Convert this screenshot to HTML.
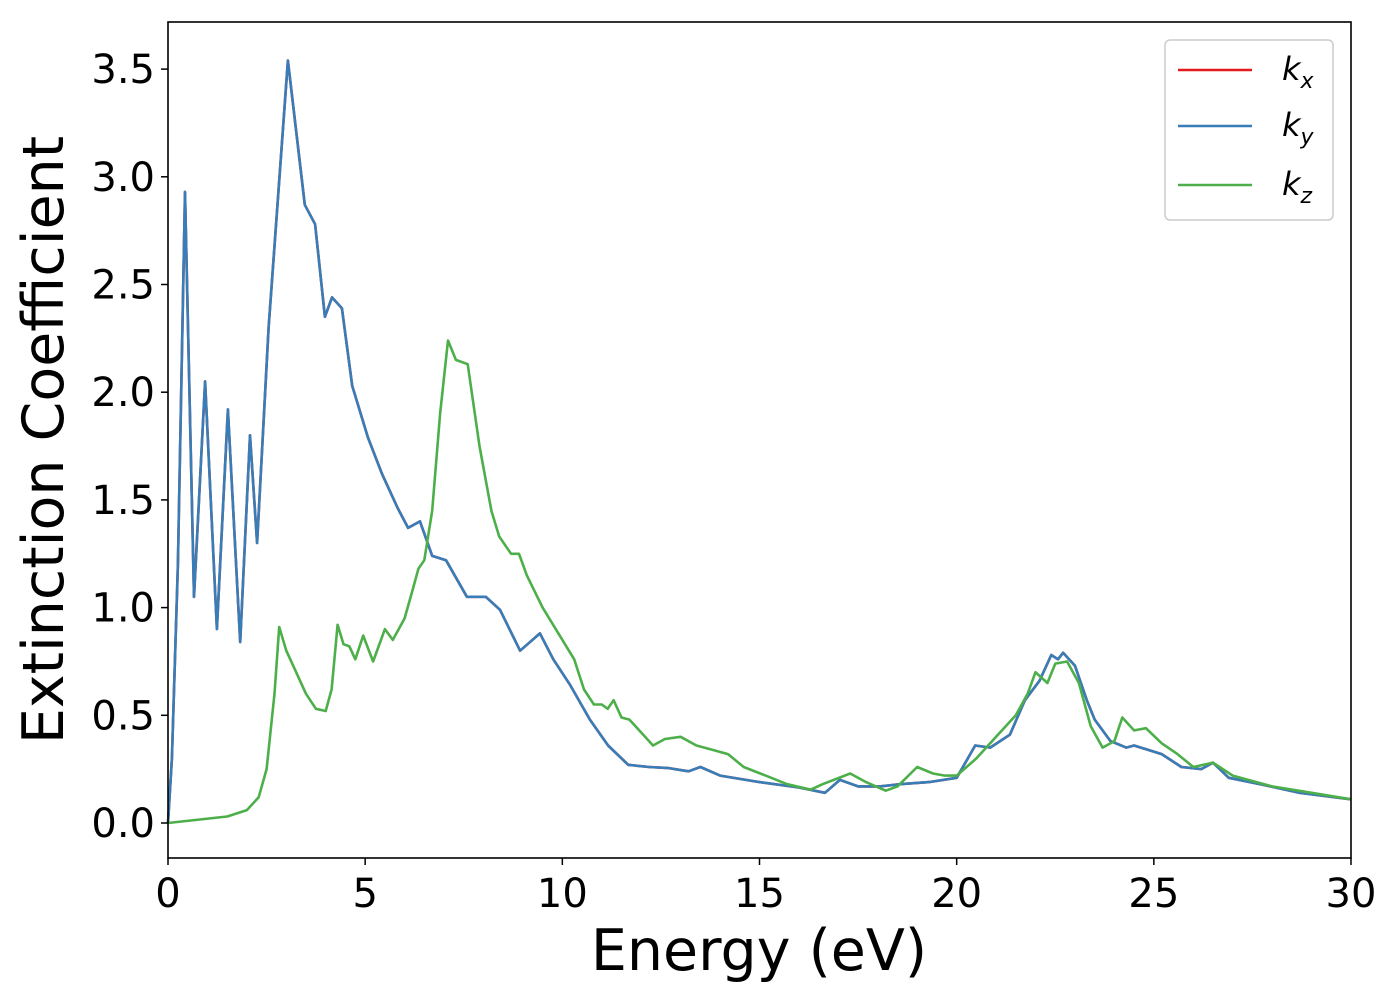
<!DOCTYPE html>
<html><head><meta charset="utf-8"><style>
body{margin:0;background:#fff;}
svg text{font-family:"DejaVu Sans","Liberation Sans",sans-serif;fill:#000;}
</style></head><body>
<svg id="chart" width="1400" height="1000" xmlns="http://www.w3.org/2000/svg">
<g id="series"></g>
<rect x="168" y="22" width="1183" height="836" fill="none" stroke="#000" stroke-width="1.6"/>
<g id="axes"></g>
<text x="759" y="970" font-size="57" text-anchor="middle">Energy (eV)</text>
<text transform="translate(63,440) rotate(-90)" font-size="57" text-anchor="middle">Extinction Coefficient</text>
<g>
<rect x="1165" y="40" width="168" height="180" rx="5" fill="#fff" fill-opacity="0.8" stroke="#ccc" stroke-width="1.5"/>
<line x1="1178" y1="70" x2="1252" y2="70" stroke="#e41a1c" stroke-width="2.5"/>
<text x="1282" y="80" font-size="32" font-style="italic">k<tspan font-size="22" dy="8">x</tspan></text>
<line x1="1178" y1="126" x2="1252" y2="126" stroke="#377eb8" stroke-width="2.5"/>
<text x="1282" y="136" font-size="32" font-style="italic">k<tspan font-size="22" dy="8">y</tspan></text>
<line x1="1178" y1="185" x2="1252" y2="185" stroke="#4daf4a" stroke-width="2.5"/>
<text x="1282" y="195" font-size="32" font-style="italic">k<tspan font-size="22" dy="8">z</tspan></text>
</g>
</svg>
<script>
const xTicks=[0,5,10,15,20,25,30];
const yTicks=[0.0,0.5,1.0,1.5,2.0,2.5,3.0,3.5];
const xyEnergy=[0,0.1,0.25,0.43,0.66,0.94,1.24,1.52,1.83,2.08,2.26,2.55,3.04,3.47,3.73,3.98,4.16,4.41,4.67,5.07,5.43,5.83,6.09,6.39,6.7,7.05,7.58,8.06,8.42,8.93,9.43,9.77,10.2,10.7,11.16,11.67,12.2,12.7,13.2,13.5,14,15,16,16.66,17.04,17.5,18.05,18.56,19.3,20,20.47,20.85,21.35,21.73,22.1,22.4,22.57,22.7,23.0,23.3,23.5,23.9,24.3,24.5,25.2,25.7,26.2,26.5,26.9,27.7,28.7,30];
const kxyValues=[0,0.3,1.2,2.93,1.05,2.05,0.90,1.92,0.84,1.80,1.30,2.3,3.54,2.87,2.78,2.35,2.44,2.39,2.03,1.79,1.62,1.46,1.37,1.40,1.24,1.22,1.05,1.05,0.99,0.80,0.88,0.76,0.64,0.48,0.36,0.27,0.26,0.255,0.24,0.26,0.22,0.19,0.165,0.14,0.20,0.17,0.17,0.18,0.19,0.21,0.36,0.35,0.41,0.57,0.66,0.78,0.76,0.79,0.73,0.57,0.48,0.38,0.35,0.36,0.32,0.26,0.25,0.28,0.21,0.18,0.14,0.11];
const zEnergy=[0,1.5,2.0,2.3,2.5,2.7,2.82,3.0,3.2,3.5,3.75,4.0,4.15,4.3,4.45,4.6,4.75,4.95,5.2,5.5,5.7,6.0,6.2,6.35,6.5,6.7,6.9,7.1,7.3,7.6,7.9,8.2,8.4,8.7,8.9,9.1,9.5,9.9,10.3,10.55,10.8,11.0,11.15,11.3,11.5,11.7,12.0,12.3,12.6,13.0,13.4,13.8,14.2,14.6,15.3,15.7,16.3,16.6,17.3,17.7,18.2,18.5,19.0,19.4,19.7,20.0,20.5,21.0,21.5,21.8,22.0,22.3,22.5,22.8,23.1,23.4,23.7,24.0,24.2,24.5,24.8,25.2,25.6,26.0,26.5,27.0,28,29,30];
const kzValues=[0,0.03,0.06,0.12,0.25,0.6,0.91,0.80,0.72,0.60,0.53,0.52,0.62,0.92,0.83,0.82,0.76,0.87,0.75,0.90,0.85,0.95,1.08,1.18,1.22,1.45,1.9,2.24,2.15,2.13,1.75,1.45,1.33,1.25,1.25,1.15,1.0,0.88,0.76,0.62,0.55,0.55,0.53,0.57,0.49,0.48,0.42,0.36,0.39,0.40,0.36,0.34,0.32,0.26,0.21,0.18,0.155,0.18,0.23,0.19,0.15,0.17,0.26,0.23,0.22,0.22,0.30,0.40,0.50,0.60,0.70,0.65,0.74,0.75,0.65,0.45,0.35,0.38,0.49,0.43,0.44,0.37,0.32,0.26,0.28,0.22,0.17,0.14,0.11];
const NS='http://www.w3.org/2000/svg';
const X0=168,X1=1351,XMAX=30,Y0=823,YPER=215.4;
function xs(v){return X0+v*(X1-X0)/XMAX;}
function ys(v){return Y0-v*YPER;}
const axes=document.getElementById('axes');
xTicks.forEach(t=>{
 const l=document.createElementNS(NS,'line');
 l.setAttribute('x1',xs(t));l.setAttribute('x2',xs(t));l.setAttribute('y1',858);l.setAttribute('y2',865);l.setAttribute('stroke','#000');l.setAttribute('stroke-width','1.5');
 
 
 axes.appendChild(l);
 const tx=document.createElementNS(NS,'text');
 tx.setAttribute('x',xs(t));tx.setAttribute('y',907);tx.setAttribute('font-size','40');tx.setAttribute('text-anchor','middle');
 tx.textContent=t;
 
 
 axes.appendChild(tx);
});
yTicks.forEach(t=>{
 const l=document.createElementNS(NS,'line');
 l.setAttribute('x1',161);l.setAttribute('x2',168);l.setAttribute('y1',ys(t));l.setAttribute('y2',ys(t));l.setAttribute('stroke','#000');l.setAttribute('stroke-width','1.5');
 
 
 axes.appendChild(l);
 const tx=document.createElementNS(NS,'text');
 tx.setAttribute('x',155);tx.setAttribute('y',ys(t)+14);tx.setAttribute('font-size','40');tx.setAttribute('text-anchor','end');
 tx.textContent=t.toFixed(1);
 
 
 axes.appendChild(tx);
});
const g=document.getElementById('series');
function line(xa,ya,color,name){
 const p=document.createElementNS(NS,'polyline');
 p.setAttribute('points',xa.map((x,i)=>xs(x).toFixed(1)+','+ys(ya[i]).toFixed(1)).join(' '));
 p.setAttribute('fill','none');p.setAttribute('stroke',color);p.setAttribute('stroke-width','2.6');p.setAttribute('stroke-linejoin','round');
 
 
 g.appendChild(p);
}
line(xyEnergy,kxyValues,'#e41a1c','series-kx');
line(xyEnergy,kxyValues,'#377eb8','series-ky');
line(zEnergy,kzValues,'#4daf4a','series-kz');
</script>
</body></html>
